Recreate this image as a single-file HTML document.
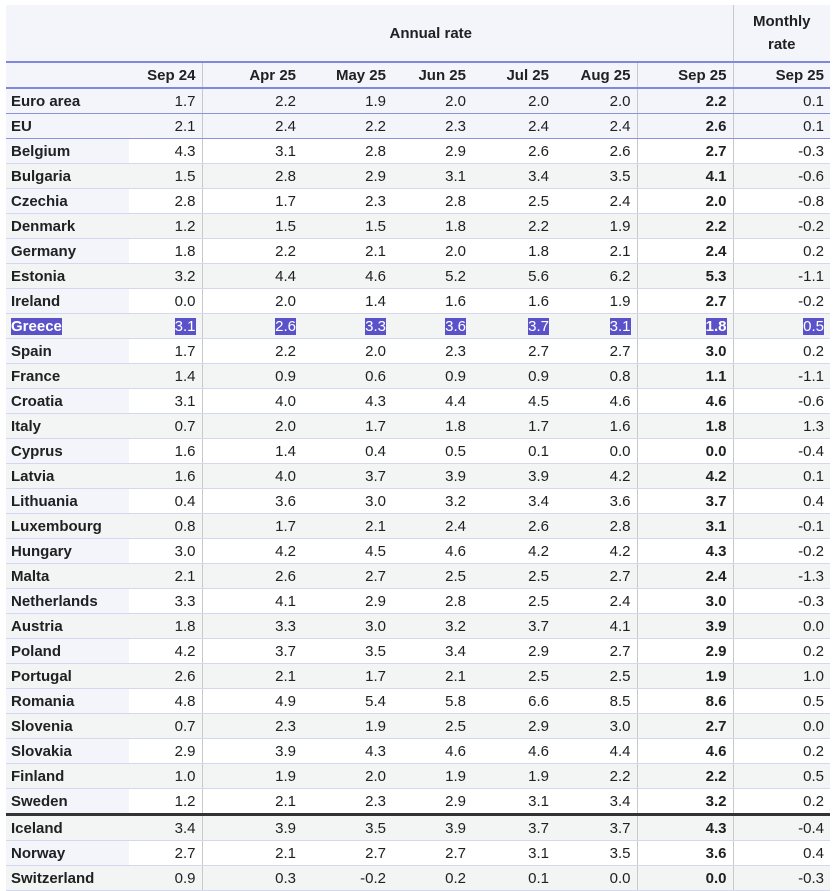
<!DOCTYPE html>
<html><head><style>
body{margin:0;background:#fff;font-family:"Liberation Sans",Arial,sans-serif;font-size:15px;color:#202122}
table{position:absolute;left:6px;top:5px;border-collapse:collapse;table-layout:fixed;width:824px}
td,th{padding:0 6px 0 0;height:24px;border-bottom:1px solid #d4d7ee;text-align:right;white-space:nowrap}
th{font-weight:bold;background:#f4f5fa}
td:first-child{text-align:left;font-weight:bold;padding-left:5px;background:#f4f5fa}
.b{font-weight:bold}
.vl{border-right:1px solid #c8c9cc}
tr.g td{background:#f3f4f4}
tr.g td:first-child{background:#f3f4f4}
tr.w td:first-child{background:#f4f5fa}
tr.e td{background:#f4f5fa;border-bottom:1px solid #8c93dd}
tr.h1 th{height:56px;border-bottom:2px solid #7f88dd}
tr.h2 th{height:24px;border-bottom:2px solid #7f88dd}
tr.sep td{border-bottom:3px solid #333}
.s{background:#5b52c9;color:#fff}
</style></head><body>
<table>
<colgroup><col style="width:123px"><col style="width:73px"><col style="width:100px"><col style="width:90px"><col style="width:80px"><col style="width:83px"><col style="width:82px"><col style="width:96px"><col style="width:97px"></colgroup>
<tr class="h1"><th></th><th colspan="7" class="vl" style="text-align:center;padding:0 0 0 0">Annual rate</th><th style="text-align:center;padding:0;line-height:23px">Monthly<br>rate</th></tr>
<tr class="h2"><th></th><th class="vl">Sep 24</th><th>Apr 25</th><th>May 25</th><th>Jun 25</th><th>Jul 25</th><th class="vl">Aug 25</th><th class="vl">Sep 25</th><th>Sep 25</th></tr>
<tr class="e"><td>Euro area</td><td class="vl">1.7</td><td>2.2</td><td>1.9</td><td>2.0</td><td>2.0</td><td class="vl">2.0</td><td class="vl b">2.2</td><td>0.1</td></tr>
<tr class="e"><td>EU</td><td class="vl">2.1</td><td>2.4</td><td>2.2</td><td>2.3</td><td>2.4</td><td class="vl">2.4</td><td class="vl b">2.6</td><td>0.1</td></tr>
<tr class="w"><td>Belgium</td><td class="vl">4.3</td><td>3.1</td><td>2.8</td><td>2.9</td><td>2.6</td><td class="vl">2.6</td><td class="vl b">2.7</td><td>-0.3</td></tr>
<tr class="g"><td>Bulgaria</td><td class="vl">1.5</td><td>2.8</td><td>2.9</td><td>3.1</td><td>3.4</td><td class="vl">3.5</td><td class="vl b">4.1</td><td>-0.6</td></tr>
<tr class="w"><td>Czechia</td><td class="vl">2.8</td><td>1.7</td><td>2.3</td><td>2.8</td><td>2.5</td><td class="vl">2.4</td><td class="vl b">2.0</td><td>-0.8</td></tr>
<tr class="g"><td>Denmark</td><td class="vl">1.2</td><td>1.5</td><td>1.5</td><td>1.8</td><td>2.2</td><td class="vl">1.9</td><td class="vl b">2.2</td><td>-0.2</td></tr>
<tr class="w"><td>Germany</td><td class="vl">1.8</td><td>2.2</td><td>2.1</td><td>2.0</td><td>1.8</td><td class="vl">2.1</td><td class="vl b">2.4</td><td>0.2</td></tr>
<tr class="g"><td>Estonia</td><td class="vl">3.2</td><td>4.4</td><td>4.6</td><td>5.2</td><td>5.6</td><td class="vl">6.2</td><td class="vl b">5.3</td><td>-1.1</td></tr>
<tr class="w"><td>Ireland</td><td class="vl">0.0</td><td>2.0</td><td>1.4</td><td>1.6</td><td>1.6</td><td class="vl">1.9</td><td class="vl b">2.7</td><td>-0.2</td></tr>
<tr class="g"><td><span class="s">Greece</span></td><td class="vl"><span class="s">3.1</span></td><td><span class="s">2.6</span></td><td><span class="s">3.3</span></td><td><span class="s">3.6</span></td><td><span class="s">3.7</span></td><td class="vl"><span class="s">3.1</span></td><td class="vl b"><span class="s">1.8</span></td><td><span class="s">0.5</span></td></tr>
<tr class="w"><td>Spain</td><td class="vl">1.7</td><td>2.2</td><td>2.0</td><td>2.3</td><td>2.7</td><td class="vl">2.7</td><td class="vl b">3.0</td><td>0.2</td></tr>
<tr class="g"><td>France</td><td class="vl">1.4</td><td>0.9</td><td>0.6</td><td>0.9</td><td>0.9</td><td class="vl">0.8</td><td class="vl b">1.1</td><td>-1.1</td></tr>
<tr class="w"><td>Croatia</td><td class="vl">3.1</td><td>4.0</td><td>4.3</td><td>4.4</td><td>4.5</td><td class="vl">4.6</td><td class="vl b">4.6</td><td>-0.6</td></tr>
<tr class="g"><td>Italy</td><td class="vl">0.7</td><td>2.0</td><td>1.7</td><td>1.8</td><td>1.7</td><td class="vl">1.6</td><td class="vl b">1.8</td><td>1.3</td></tr>
<tr class="w"><td>Cyprus</td><td class="vl">1.6</td><td>1.4</td><td>0.4</td><td>0.5</td><td>0.1</td><td class="vl">0.0</td><td class="vl b">0.0</td><td>-0.4</td></tr>
<tr class="g"><td>Latvia</td><td class="vl">1.6</td><td>4.0</td><td>3.7</td><td>3.9</td><td>3.9</td><td class="vl">4.2</td><td class="vl b">4.2</td><td>0.1</td></tr>
<tr class="w"><td>Lithuania</td><td class="vl">0.4</td><td>3.6</td><td>3.0</td><td>3.2</td><td>3.4</td><td class="vl">3.6</td><td class="vl b">3.7</td><td>0.4</td></tr>
<tr class="g"><td>Luxembourg</td><td class="vl">0.8</td><td>1.7</td><td>2.1</td><td>2.4</td><td>2.6</td><td class="vl">2.8</td><td class="vl b">3.1</td><td>-0.1</td></tr>
<tr class="w"><td>Hungary</td><td class="vl">3.0</td><td>4.2</td><td>4.5</td><td>4.6</td><td>4.2</td><td class="vl">4.2</td><td class="vl b">4.3</td><td>-0.2</td></tr>
<tr class="g"><td>Malta</td><td class="vl">2.1</td><td>2.6</td><td>2.7</td><td>2.5</td><td>2.5</td><td class="vl">2.7</td><td class="vl b">2.4</td><td>-1.3</td></tr>
<tr class="w"><td>Netherlands</td><td class="vl">3.3</td><td>4.1</td><td>2.9</td><td>2.8</td><td>2.5</td><td class="vl">2.4</td><td class="vl b">3.0</td><td>-0.3</td></tr>
<tr class="g"><td>Austria</td><td class="vl">1.8</td><td>3.3</td><td>3.0</td><td>3.2</td><td>3.7</td><td class="vl">4.1</td><td class="vl b">3.9</td><td>0.0</td></tr>
<tr class="w"><td>Poland</td><td class="vl">4.2</td><td>3.7</td><td>3.5</td><td>3.4</td><td>2.9</td><td class="vl">2.7</td><td class="vl b">2.9</td><td>0.2</td></tr>
<tr class="g"><td>Portugal</td><td class="vl">2.6</td><td>2.1</td><td>1.7</td><td>2.1</td><td>2.5</td><td class="vl">2.5</td><td class="vl b">1.9</td><td>1.0</td></tr>
<tr class="w"><td>Romania</td><td class="vl">4.8</td><td>4.9</td><td>5.4</td><td>5.8</td><td>6.6</td><td class="vl">8.5</td><td class="vl b">8.6</td><td>0.5</td></tr>
<tr class="g"><td>Slovenia</td><td class="vl">0.7</td><td>2.3</td><td>1.9</td><td>2.5</td><td>2.9</td><td class="vl">3.0</td><td class="vl b">2.7</td><td>0.0</td></tr>
<tr class="w"><td>Slovakia</td><td class="vl">2.9</td><td>3.9</td><td>4.3</td><td>4.6</td><td>4.6</td><td class="vl">4.4</td><td class="vl b">4.6</td><td>0.2</td></tr>
<tr class="g"><td>Finland</td><td class="vl">1.0</td><td>1.9</td><td>2.0</td><td>1.9</td><td>1.9</td><td class="vl">2.2</td><td class="vl b">2.2</td><td>0.5</td></tr>
<tr class="w sep"><td>Sweden</td><td class="vl">1.2</td><td>2.1</td><td>2.3</td><td>2.9</td><td>3.1</td><td class="vl">3.4</td><td class="vl b">3.2</td><td>0.2</td></tr>
<tr class="g"><td>Iceland</td><td class="vl">3.4</td><td>3.9</td><td>3.5</td><td>3.9</td><td>3.7</td><td class="vl">3.7</td><td class="vl b">4.3</td><td>-0.4</td></tr>
<tr class="w"><td>Norway</td><td class="vl">2.7</td><td>2.1</td><td>2.7</td><td>2.7</td><td>3.1</td><td class="vl">3.5</td><td class="vl b">3.6</td><td>0.4</td></tr>
<tr class="g"><td>Switzerland</td><td class="vl">0.9</td><td>0.3</td><td>-0.2</td><td>0.2</td><td>0.1</td><td class="vl">0.0</td><td class="vl b">0.0</td><td>-0.3</td></tr>
</table>
</body></html>
